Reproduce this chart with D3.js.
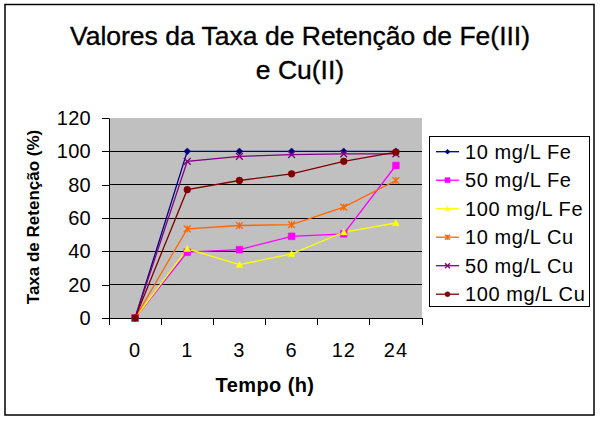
<!DOCTYPE html>
<html><head><meta charset="utf-8">
<script src="https://cdn.jsdelivr.net/npm/d3@7"></script>
<style>html,body{margin:0;padding:0;background:#fff;}svg{display:block;}</style>
</head><body>
<svg id="chart" width="600" height="421"></svg>
<script>
const categories = ["0", "1", "3", "6", "12", "24"];
const seriesNames = ["10 mg/L Fe", "50 mg/L Fe", "100 mg/L Fe", "10 mg/L Cu", "50 mg/L Cu", "100 mg/L Cu"];
const fe10 = [0, 100, 100, 100, 100, 100];
const fe50 = [0, 39.5, 41, 49, 50.5, 91.5];
const fe100 = [0, 41.5, 32, 38.5, 51.5, 57];
const cu10 = [0, 53.5, 55.5, 56, 66.5, 82.5];
const cu50 = [0, 94, 97, 98, 98.5, 98.5];
const cu100 = [0, 77, 82.5, 86.5, 94, 99.5];
const yTicks = [0, 20, 40, 60, 80, 100, 120];
const colors = ["#000080", "#FF00FF", "#FFFF00", "#FF6600", "#800080", "#800000"];
const markers = ["diamond", "square", "triangle", "asterisk", "times", "circle"];
const titleLines = ["Valores da Taxa de Retenção de Fe(III)", "e Cu(II)"];
const xTitle = "Tempo (h)";
const yTitle = "Taxa de Retenção (%)";

const seriesValues = [fe10, fe50, fe100, cu10, cu50, cu100];
const series = seriesNames.map((n, i) => ({name: n, values: seriesValues[i], color: colors[i], marker: markers[i]}));

const svg = d3.select("#chart");
const font = "Arial, 'Liberation Sans', sans-serif";
const pLeft = 109, pRight = 422, pTop = 118, pBottom = 318;

// outer border
svg.append("rect").attr("x", 5).attr("y", 4.5).attr("width", 589).attr("height", 410.5)
  .attr("fill", "#fff").attr("stroke", "#000").attr("stroke-width", 1.5);

// title
svg.append("g").selectAll("text").data(titleLines).join("text")
  .attr("x", 300).attr("y", (d, i) => 45 + i * 34)
  .attr("text-anchor", "middle").attr("font-family", font).attr("font-size", 26.5)
  .attr("fill", "#000").attr("stroke", "#000").attr("stroke-width", 0.35).text(d => d);

const x = d3.scaleBand().domain(categories).range([pLeft, pRight]).padding(0);
const y = d3.scaleLinear().domain([0, 120]).range([pBottom, pTop]);

// plot area
svg.append("rect").attr("x", pLeft).attr("y", pTop).attr("width", pRight - pLeft).attr("height", pBottom - pTop)
  .attr("fill", "#C0C0C0");

// gridlines
svg.append("g").selectAll("line").data(yTicks.filter(t => t > 0 && t < 120)).join("line")
  .attr("x1", pLeft).attr("x2", pRight).attr("y1", d => y(d)).attr("y2", d => y(d))
  .attr("stroke", "#000").attr("stroke-width", 1).attr("shape-rendering", "crispEdges");

// y axis
const yAxis = svg.append("g").attr("transform", `translate(${pLeft},0)`)
  .call(d3.axisLeft(y).tickValues(yTicks).tickSize(7).tickPadding(11).tickSizeOuter(0));
yAxis.select(".domain").attr("stroke", "#000");
yAxis.selectAll("line").attr("stroke", "#000").attr("shape-rendering", "crispEdges");
yAxis.selectAll("text").attr("font-family", font).attr("font-size", 20).attr("letter-spacing", 0.3).attr("fill", "#000");

// x axis
const xAxis = svg.append("g").attr("transform", `translate(0,${pBottom})`)
  .call(d3.axisBottom(x).tickSize(0).tickPadding(25));
xAxis.select(".domain").attr("stroke", "#000").attr("shape-rendering", "crispEdges");
xAxis.selectAll("text").attr("font-family", font).attr("font-size", 20).attr("letter-spacing", 1).attr("fill", "#000");
// category boundary ticks
const bounds = categories.map(c => x(c)).concat([x(categories[categories.length - 1]) + x.bandwidth()]);
svg.append("g").selectAll("line").data(bounds).join("line")
  .attr("x1", d => d).attr("x2", d => d).attr("y1", pBottom).attr("y2", pBottom + 7)
  .attr("stroke", "#000").attr("shape-rendering", "crispEdges");

// axis titles
svg.append("text").attr("x", 265).attr("y", 392).attr("text-anchor", "middle")
  .attr("font-family", font).attr("font-size", 20).attr("letter-spacing", 0.4).attr("font-weight", "bold").text(xTitle);
svg.append("text").attr("transform", "translate(39,217) rotate(-90)").attr("text-anchor", "middle")
  .attr("font-family", font).attr("font-size", 17).attr("font-weight", "bold").text(yTitle);

function markerPath(type, s) {
  switch (type) {
    case "diamond": return `M0,${-s}L${s},0L0,${s}L${-s},0Z`;
    case "square": return `M${-s},${-s}H${s}V${s}H${-s}Z`;
    case "triangle": return `M0,${-s}L${s},${s * 0.8}L${-s},${s * 0.8}Z`;
    case "asterisk": return `M${-s},${-s}L${s},${s}M${-s},${s}L${s},${-s}M0,${-s}V${s}`;
    case "times": return `M${-s},${-s}L${s},${s}M${-s},${s}L${s},${-s}`;
    case "circle": return `M${s},0A${s},${s} 0 1,1 ${-s},0A${s},${s} 0 1,1 ${s},0Z`;
  }
}
function drawMarker(g, type, color, s) {
  const filled = !(type === "asterisk" || type === "times");
  g.append("path").attr("d", markerPath(type, s))
    .attr("fill", filled ? color : "none").attr("stroke", color).attr("stroke-width", filled ? 0.5 : 1.3);
}

const line = d3.line().x((d, i) => x(categories[i]) + x.bandwidth() / 2).y(d => y(d));
const plot = svg.append("g");
series.forEach(s => {
  plot.append("path").datum(s.values).attr("d", line)
    .attr("fill", "none").attr("stroke", s.color).attr("stroke-width", 1.3);
});
series.forEach(s => {
  s.values.forEach((v, i) => {
    const g = plot.append("g").attr("transform", `translate(${x(categories[i]) + x.bandwidth() / 2},${y(v)})`);
    drawMarker(g, s.marker, s.color, 3.4);
  });
});

// legend
const lg = svg.append("g");
lg.append("rect").attr("x", 429.5).attr("y", 136.5).attr("width", 160).attr("height", 170)
  .attr("fill", "#fff").attr("stroke", "#000").attr("stroke-width", 1);
series.forEach((s, i) => {
  const cy = 151.7 + i * 28.5;
  lg.append("line").attr("x1", 436).attr("x2", 459).attr("y1", cy).attr("y2", cy)
    .attr("stroke", s.color).attr("stroke-width", 1.3);
  const g = lg.append("g").attr("transform", `translate(447.5,${cy})`);
  drawMarker(g, s.marker, s.color, 2.5);
  lg.append("text").attr("x", 465).attr("y", cy + 7).attr("font-family", font).attr("font-size", 20)
    .attr("letter-spacing", 0.6).attr("fill", "#000").text(s.name);
});
</script>
</body></html>
